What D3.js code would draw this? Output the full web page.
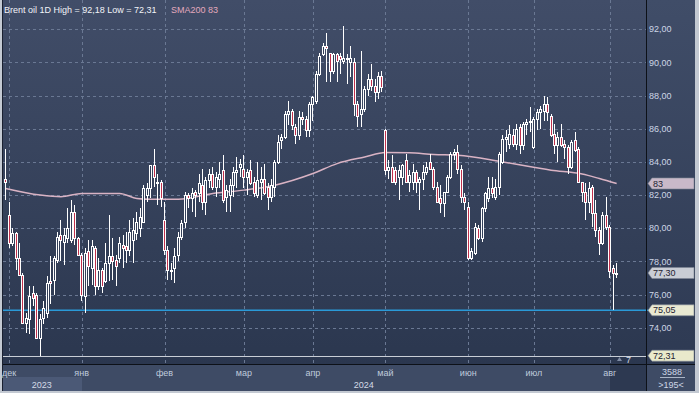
<!DOCTYPE html>
<html>
<head>
<meta charset="utf-8">
<script src="https://cdn.jsdelivr.net/npm/d3@7"></script>
<style>
  body { margin: 0; background: #c3c9d2; }
  svg { display: block; font-family: "Liberation Sans", Arial, sans-serif; }
</style>
</head>
<body>
<div id="chart"></div>
<script>
// Chart text
const titleText = "Brent oil 1D High = 92,18 Low = 72,31";
const smaText = "SMA200 83";

// Month ticks (candle index where each month starts) and year spans
const monthLabels = ["дек", "янв", "фев", "мар", "апр", "май", "июн", "июл", "авг"];
const monthIndex = [1, 22, 46, 69, 89, 110, 134, 153, 175];
const yearLabels = ["2023", "2024"];
const priceTicks = [74, 76, 78, 80, 82, 84, 86, 88, 90, 92];

// Daily candles, Nov 30 2023 .. Aug 6 2024
const opens = [
  83.0, 80.8, 79.1, 79.7, 78.2, 77.2, 74.3, 74.5, 76.1, 76.0, 73.4, 74.6, 74.9, 76.8, 76.9, 78.1, 79.6, 79.2, 79.4, 79.3,
  81.0, 79.4, 78.4, 75.9, 78.6, 77.6, 78.8, 76.5, 77.5, 76.8, 77.9, 78.3, 78.1, 78.2, 79.0, 78.9, 78.7, 79.3, 79.7, 80.0,
  80.4, 82.0, 82.4, 83.8, 82.8, 82.8, 80.5, 78.7, 77.5, 77.6, 78.4, 79.5, 80.4, 82.0, 81.8, 82.2, 82.1, 82.6, 81.6, 82.9,
  83.3, 82.5, 83.0, 83.5, 81.9, 82.0, 82.6, 83.4, 83.7, 83.6, 83.1, 83.5, 82.8, 82.0, 82.8, 83.0, 82.5, 81.9, 82.5, 84.0,
  85.3, 85.5, 86.9, 87.1, 86.1, 85.6, 86.7, 86.6, 85.9, 87.5, 87.7, 89.3, 90.5, 91.0, 90.6, 89.5, 90.5, 90.4, 90.1, 90.3,
  90.0, 90.0, 87.5, 86.9, 87.2, 88.4, 89.0, 88.6, 88.2, 89.2, 85.9, 83.5, 83.7, 83.5, 83.1, 83.1, 84.1, 82.8, 82.8, 83.4,
  82.8, 83.0, 83.4, 84.0, 83.6, 82.5, 81.8, 81.5, 82.2, 83.1, 84.5, 84.6, 83.6, 81.9, 81.3, 78.2, 78.5, 80.0, 79.4, 81.2,
  81.8, 82.4, 81.9, 82.5, 84.0, 85.4, 85.1, 85.6, 85.1, 86.1, 85.0, 86.3, 86.4, 84.9, 86.6, 87.0, 87.1, 87.5, 86.8, 85.7,
  85.0, 85.5, 85.1, 84.9, 83.7, 85.3, 84.8, 82.8, 82.2, 81.6, 82.5, 80.9, 79.9, 79.1, 80.8, 80.1, 77.6, 77.3
];
const highs = [
  84.8, 81.6, 80.0, 79.8, 79.1, 77.3, 74.9, 76.5, 76.5, 76.1, 74.8, 75.6, 77.1, 78.3, 78.3, 79.8, 80.5, 80.0, 81.2, 81.7,
  81.4, 79.5, 78.5, 78.8, 79.3, 79.3, 78.9, 78.2, 77.6, 79.1, 80.8, 79.4, 78.4, 79.5, 79.6, 79.8, 80.5, 80.6, 81.0, 81.2,
  82.6, 82.7, 83.8, 84.8, 83.3, 82.9, 81.6, 78.9, 77.9, 78.8, 79.8, 80.5, 82.2, 82.1, 82.4, 82.3, 83.3, 83.6, 83.1, 83.6,
  83.7, 83.4, 84.0, 84.4, 82.6, 83.0, 83.7, 84.3, 84.2, 84.4, 83.6, 84.1, 83.1, 84.0, 83.7, 83.9, 82.7, 83.0, 84.1, 85.6,
  85.7, 87.1, 87.7, 87.2, 86.3, 87.1, 87.0, 86.8, 87.6, 88.0, 89.5, 90.6, 91.2, 91.8, 90.6, 90.6, 90.6, 90.6, 92.18, 90.5,
  91.0, 90.3, 87.7, 90.7, 88.6, 89.3, 89.9, 89.0, 89.4, 89.5, 86.0, 84.1, 84.4, 83.7, 83.8, 83.9, 84.5, 83.5, 83.9, 83.5,
  83.1, 83.8, 84.0, 84.5, 83.7, 82.8, 82.6, 82.2, 83.2, 84.6, 84.8, 85.0, 83.8, 82.1, 81.6, 78.8, 80.3, 80.2, 81.3, 82.2,
  83.1, 83.1, 83.0, 84.6, 85.6, 85.9, 86.2, 86.0, 86.3, 86.3, 86.4, 86.6, 87.3, 86.7, 87.2, 87.4, 88.0, 87.9, 86.9, 86.3,
  85.8, 86.3, 85.3, 85.0, 85.3, 85.8, 84.9, 82.8, 82.7, 82.8, 82.6, 81.7, 80.1, 81.0, 81.9, 80.2, 77.8, 77.9
];
const lows = [
  81.7, 78.8, 78.9, 77.5, 77.1, 74.2, 73.7, 73.6, 75.3, 73.3, 72.31, 74.2, 74.6, 75.4, 76.0, 77.9, 78.0, 77.8, 79.1, 79.1,
  79.0, 78.3, 75.6, 74.9, 76.5, 76.6, 76.0, 76.3, 76.1, 76.7, 76.8, 76.9, 76.5, 77.9, 77.6, 77.9, 78.3, 77.9, 79.3, 79.5,
  80.3, 81.6, 81.8, 82.5, 81.4, 81.3, 78.4, 76.9, 76.9, 76.7, 78.0, 79.3, 80.0, 81.2, 81.0, 80.7, 81.6, 81.1, 80.8, 82.4,
  82.3, 81.9, 82.4, 81.5, 81.0, 81.0, 81.9, 82.4, 83.1, 82.4, 82.0, 82.6, 81.9, 81.8, 81.7, 82.0, 81.1, 81.6, 81.9, 83.9,
  84.8, 85.4, 86.2, 85.9, 85.1, 85.3, 86.2, 85.5, 85.5, 86.5, 87.5, 89.2, 90.4, 88.8, 88.8, 89.3, 88.8, 89.3, 89.9, 88.7,
  89.1, 86.8, 86.1, 86.1, 87.0, 88.0, 88.3, 87.6, 87.8, 88.2, 83.2, 83.0, 82.7, 82.6, 81.7, 82.6, 82.7, 82.2, 82.3, 82.1,
  81.1, 82.3, 83.2, 83.5, 82.3, 81.5, 80.9, 80.7, 82.1, 83.0, 84.1, 83.3, 81.5, 81.1, 78.1, 78.1, 78.4, 79.3, 79.2, 81.0,
  81.6, 81.8, 81.7, 82.0, 83.9, 84.6, 84.8, 84.9, 84.7, 84.5, 84.7, 85.6, 85.8, 84.8, 85.9, 86.0, 86.5, 86.5, 85.5, 84.5,
  84.0, 84.9, 84.2, 83.3, 83.6, 84.6, 82.7, 81.6, 80.5, 80.9, 80.1, 79.5, 78.4, 79.0, 79.9, 77.0, 75.05, 77.0
];
const closes = [
  82.8, 79.1, 79.7, 78.2, 77.2, 74.3, 74.6, 75.9, 75.8, 73.4, 74.5, 75.2, 76.7, 76.7, 78.2, 79.5, 79.3, 79.6, 80.0, 81.0,
  79.4, 78.4, 76.0, 78.5, 77.7, 78.9, 76.5, 77.5, 76.5, 77.9, 78.3, 78.0, 77.7, 79.1, 78.8, 78.7, 79.8, 79.9, 80.4, 80.7,
  82.4, 82.4, 83.8, 83.1, 82.7, 81.8, 78.7, 77.5, 77.4, 78.3, 79.5, 80.3, 82.0, 81.8, 82.1, 82.0, 82.7, 81.6, 82.9, 83.3,
  82.5, 83.1, 83.3, 81.7, 82.3, 82.6, 83.4, 83.5, 83.9, 83.1, 83.4, 82.7, 82.1, 82.9, 83.0, 82.1, 81.9, 82.6, 84.0, 85.2,
  85.5, 86.9, 87.1, 86.2, 85.6, 86.7, 86.6, 85.9, 87.5, 87.9, 89.3, 90.4, 91.0, 90.9, 89.5, 90.5, 90.1, 90.2, 90.3, 90.2,
  90.3, 87.5, 86.8, 87.2, 88.4, 89.0, 88.6, 88.2, 89.2, 88.5, 83.5, 83.7, 82.8, 82.8, 83.5, 83.8, 82.8, 83.2, 83.4, 82.8,
  83.0, 83.4, 83.7, 83.6, 82.5, 81.6, 81.5, 82.2, 83.1, 84.5, 84.6, 83.6, 81.9, 81.6, 78.2, 78.6, 80.1, 79.4, 81.2, 82.1,
  82.4, 82.1, 82.5, 84.5, 85.4, 85.5, 85.7, 85.1, 86.0, 85.0, 86.3, 86.4, 86.5, 86.6, 87.0, 87.2, 87.5, 87.0, 85.6, 85.0,
  85.5, 85.0, 84.9, 83.7, 85.2, 84.7, 82.8, 82.2, 81.6, 82.4, 80.9, 79.9, 79.1, 80.8, 80.1, 77.4, 77.3, 77.3
];

// SMA200 read at a few candle positions
const smaIndex = [0, 10, 16, 22, 26, 33, 38, 42, 50, 60, 69, 78, 89, 96, 104, 110, 117, 124, 131, 144, 158, 167, 172, 177];
const smaValue = [82.4, 82.0, 81.9, 82.1, 82.1, 82.1, 81.8, 81.75, 81.75, 82.1, 82.3, 82.6, 83.3, 83.9, 84.3, 84.57, 84.55, 84.45, 84.4, 84.0, 83.5, 83.27, 83.0, 82.7];

const lastPrice = 77.30;
const markerPrice = 75.05;
const lowPrice = 72.31;

const fmt = v => d3.format(".2f")(v).replace(".", ",");

const W = 699, H = 393;
const plotL = 2, plotR = 646, plotB = 364, panelR = 695, axisB = 391;

const svg = d3.select("#chart").append("svg")
  .attr("width", W)
  .attr("height", H);

const defs = svg.append("defs");
const g1 = defs.append("linearGradient").attr("id", "plotBg").attr("x1", 0).attr("y1", 0).attr("x2", 0).attr("y2", 1);
g1.append("stop").attr("offset", "0%").attr("stop-color", "#414d68");
g1.append("stop").attr("offset", "100%").attr("stop-color", "#2b374f");
const g2 = defs.append("linearGradient").attr("id", "panelBg").attr("x1", 0).attr("y1", 0).attr("x2", 0).attr("y2", 1);
g2.append("stop").attr("offset", "0%").attr("stop-color", "#404d68");
g2.append("stop").attr("offset", "100%").attr("stop-color", "#2e3a53");

// Panels
svg.append("rect").attr("x", plotL).attr("y", 0).attr("width", plotR - plotL).attr("height", plotB).attr("fill", "url(#plotBg)");
svg.append("rect").attr("x", plotR).attr("y", 0).attr("width", panelR - plotR).attr("height", plotB).attr("fill", "url(#panelBg)");
svg.append("rect").attr("x", plotL).attr("y", plotB).attr("width", panelR - plotL).attr("height", axisB - plotB).attr("fill", "#3e4b65");

// Scales
const n = opens.length;
const x = d3.scaleBand().domain(d3.range(186)).range([4, plotR]);
const cx = i => x(i) + x.bandwidth() / 2;
const y = d3.scaleLinear().domain([71.81, 93.77]).range([plotB, 0]);

// Grid
const grid = svg.append("g").attr("stroke", "#6a7893").attr("stroke-dasharray", "3,3").attr("shape-rendering", "crispEdges");
grid.selectAll("line.h").data(priceTicks).enter().append("line")
  .attr("x1", plotL + 1).attr("x2", plotR)
  .attr("y1", d => Math.round(y(d)) + 0.5).attr("y2", d => Math.round(y(d)) + 0.5);
grid.selectAll("line.v").data(monthIndex).enter().append("line")
  .attr("x1", d => Math.round(cx(d)) + 0.5).attr("x2", d => Math.round(cx(d)) + 0.5)
  .attr("y1", 0).attr("y2", plotB);

// Low line and marker line
svg.append("line").attr("x1", plotL + 1).attr("x2", plotR)
  .attr("y1", Math.round(y(lowPrice)) + 0.5).attr("y2", Math.round(y(lowPrice)) + 0.5)
  .attr("stroke", "#c9ced6").attr("stroke-width", 1);
svg.append("line").attr("x1", plotL + 1).attr("x2", plotR + 2)
  .attr("y1", y(markerPrice)).attr("y2", y(markerPrice))
  .attr("stroke", "#2a9ad8").attr("stroke-width", 1.5);

// SMA line
const smaLine = d3.line()
  .x(d => cx(d[0]))
  .y(d => y(d[1]))
  .curve(d3.curveMonotoneX);
svg.append("path")
  .datum(d3.zip(smaIndex, smaValue))
  .attr("d", smaLine)
  .attr("fill", "none")
  .attr("stroke", "#d9b3c4")
  .attr("stroke-width", 1.5);

// Candles
const candles = d3.range(n).map(i => ({ i, o: opens[i], h: highs[i], l: lows[i], c: closes[i] }));
const cg = svg.append("g").attr("shape-rendering", "crispEdges");
candles.forEach(d => {
  const x0 = Math.round(cx(d.i) - 1.5);
  const top = Math.round(y(Math.max(d.o, d.c)));
  const bot = Math.max(top + 1, Math.round(y(Math.min(d.o, d.c))));
  const yh = Math.round(y(d.h));
  const yl = Math.round(y(d.l));
  const down = d.c < d.o;
  if (yh < top) cg.append("rect").attr("x", x0 + 1).attr("y", yh).attr("width", 1).attr("height", top - yh).attr("fill", "#ffffff");
  if (yl > bot) cg.append("rect").attr("x", x0 + 1).attr("y", bot).attr("width", 1).attr("height", yl - bot).attr("fill", "#ffffff");
  cg.append("rect").attr("x", x0).attr("y", top).attr("width", 3).attr("height", bot - top + 1).attr("fill", "#ffffff");
  if (bot - top >= 2) {
    cg.append("rect").attr("x", x0 + 1).attr("y", top + 1).attr("width", 1).attr("height", bot - top - 1)
      .attr("fill", down ? "#c0304c" : "#34405a");
  }
});

// Frame lines
svg.append("line").attr("x1", plotR + 0.5).attr("x2", plotR + 0.5).attr("y1", 0).attr("y2", axisB).attr("stroke", "#0d1118");
svg.append("line").attr("x1", plotL).attr("x2", panelR).attr("y1", plotB + 0.5).attr("y2", plotB + 0.5).attr("stroke", "#0d1118");
svg.append("line").attr("x1", plotL + 0.5).attr("x2", plotL + 0.5).attr("y1", 0).attr("y2", axisB).attr("stroke", "#1a2030");

// Right axis labels
svg.append("g").selectAll("text").data(priceTicks).enter().append("text")
  .attr("x", 649).attr("y", d => y(d)).attr("dy", "0.35em")
  .attr("font-size", 9).attr("fill", "#cdd6e6")
  .text(fmt);

// Price tags
function tag(v, label, fill) {
  const cy = y(v);
  svg.append("path")
    .attr("d", `M${plotR + 2},${cy} L${plotR + 6},${cy - 5.5} L${panelR - 1},${cy - 5.5} L${panelR - 1},${cy + 5.5} L${plotR + 6},${cy + 5.5} Z`)
    .attr("fill", fill).attr("stroke", "#7d8696").attr("stroke-width", 0.6);
  svg.append("text").attr("x", plotR + 7).attr("y", cy).attr("dy", "0.35em")
    .attr("font-size", 9).attr("fill", "#1e2230").text(label);
}
tag(smaValue[smaValue.length - 1], "83", "#c9b9c9");
tag(lastPrice, fmt(lastPrice), "#c9cdd5");
tag(markerPrice, fmt(markerPrice), "#e9e9d2");
tag(lowPrice, fmt(lowPrice), "#e9e9cb");

// Bars to the right indicator
svg.append("path").attr("d", "M617,361 L619.5,357 L622,361 Z").attr("fill", "#7f8ca4");
svg.append("text").attr("x", 626).attr("y", 363).attr("font-size", 9).attr("fill", "#d3dae6").text("7");

// Bottom axis: shading, months, years
const mLast = monthIndex[monthIndex.length - 1];
svg.append("rect").attr("x", Math.round(cx(mLast))).attr("y", plotB + 1)
  .attr("width", plotR - Math.round(cx(mLast))).attr("height", axisB - plotB - 1).attr("fill", "#2d3951");
svg.append("rect").attr("x", plotL + 1).attr("y", 377)
  .attr("width", Math.round(cx(monthIndex[1])) - plotL - 1).attr("height", 14).attr("fill", "#4b5976");

svg.append("g").selectAll("text").data(monthLabels).enter().append("text")
  .attr("x", (d, k) => cx(monthIndex[k])).attr("y", 376)
  .attr("text-anchor", "middle").attr("font-size", 9).attr("fill", "#bfcadb")
  .text(d => d);

const yearSpans = [[plotL, cx(monthIndex[1])], [cx(monthIndex[1]), plotR]];
svg.append("g").selectAll("text").data(yearLabels).enter().append("text")
  .attr("x", (d, k) => (yearSpans[k][0] + yearSpans[k][1]) / 2).attr("y", 388)
  .attr("text-anchor", "middle").attr("font-size", 9).attr("fill", "#d3dae6")
  .text(d => d);

// Bottom-right counters
svg.append("text").attr("x", 672).attr("y", 375).attr("text-anchor", "middle")
  .attr("font-size", 9).attr("fill", "#cdd6e6").text("3588");
svg.append("line").attr("x1", 660).attr("x2", 685).attr("y1", 377.5).attr("y2", 377.5).attr("stroke", "#aab4c6");
svg.append("text").attr("x", 671).attr("y", 388).attr("text-anchor", "middle")
  .attr("font-size", 9).attr("fill", "#cdd6e6").text(">195<");

// Legend
svg.append("text").attr("x", 4).attr("y", 13).attr("font-size", 9).attr("fill", "#f2f4f8").text(titleText);
svg.append("text").attr("x", 171).attr("y", 13).attr("font-size", 9).attr("fill", "#e3a9bd").text(smaText);
</script>
</body>
</html>
